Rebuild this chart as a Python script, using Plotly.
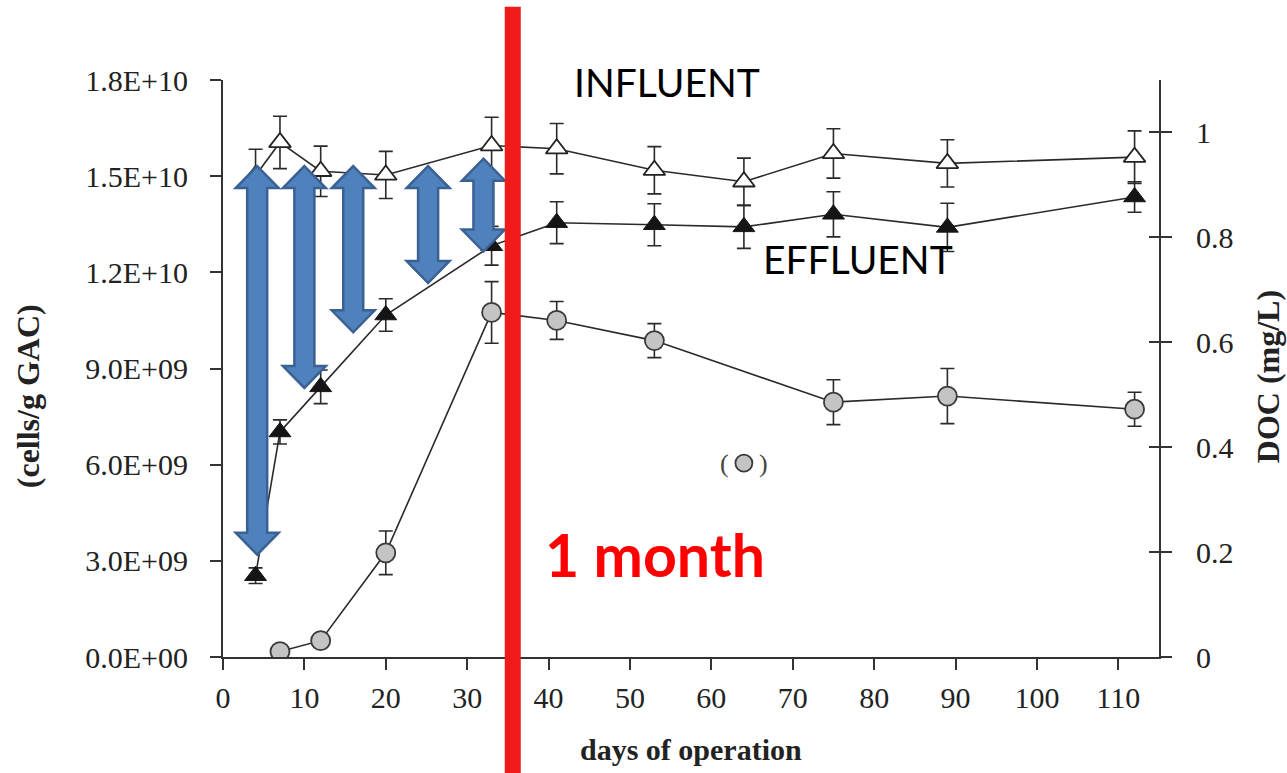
import plotly.graph_objects as go

# ---------------- data ----------------
days = [4, 7, 12, 20, 33, 41, 53, 64, 75, 89, 112]
doc_influent = [0.918, 0.981, 0.926, 0.919, 0.975, 0.969, 0.928, 0.906, 0.960, 0.941, 0.953]
doc_influent_err = [0.050, 0.050, 0.048, 0.045, 0.054, 0.048, 0.045, 0.045, 0.047, 0.045, 0.050]
doc_effluent = [0.155, 0.429, 0.515, 0.652, 0.784, 0.828, 0.824, 0.820, 0.844, 0.819, 0.877]
doc_effluent_err = [0.015, 0.023, 0.032, 0.031, 0.037, 0.040, 0.040, 0.041, 0.043, 0.046, 0.029]

cell_days = [7, 12, 20, 33, 41, 53, 75, 89, 112]
cells = [0.17e9, 0.51e9, 3.25e9, 10.75e9, 10.5e9, 9.87e9, 7.95e9, 8.14e9, 7.73e9]
cells_err = [0, 0, 0.68e9, 0.96e9, 0.59e9, 0.53e9, 0.70e9, 0.86e9, 0.53e9]
outlier_day = [64]
outlier_cells = [6.05e9]

left_tickvals = [0, 3e9, 6e9, 9e9, 12e9, 15e9, 18e9]
left_ticktext = ["0.0E+00", "3.0E+09", "6.0E+09", "9.0E+09", "1.2E+10", "1.5E+10", "1.8E+10"]
right_tickvals = [0, 0.2, 0.4, 0.6, 0.8, 1.0]
right_ticktext = ["0", "0.2", "0.4", "0.6", "0.8", "1"]
x_tickvals = list(range(0, 111, 10))

# double-headed arrows (day, top DOC, bottom DOC)
arrow_x = [4.2, 10.0, 16.0, 25.2, 32.0]
arrow_top = [0.936, 0.936, 0.936, 0.936, 0.950]
arrow_bottom = [0.195, 0.513, 0.619, 0.713, 0.773]

month_day = 35.6
X_MAX = 115
Y2_MAX = 1.1

# ---------------- figure ----------------
fig = go.Figure()
line_col = "#2a2a2a"
err_style = dict(type="data", thickness=1.6, width=7, color="#2a2a2a")

fig.add_trace(go.Scatter(
    x=days, y=doc_influent, yaxis="y2", mode="lines+markers",
    line=dict(color=line_col, width=1.6),
    marker=dict(symbol="triangle-up", size=19, color="white", line=dict(color="#222", width=1.8)),
    error_y=dict(array=doc_influent_err, **err_style)))
fig.add_trace(go.Scatter(
    x=days, y=doc_effluent, yaxis="y2", mode="lines+markers",
    line=dict(color=line_col, width=1.6),
    marker=dict(symbol="triangle-up", size=19, color="#151515", line=dict(color="#151515", width=1)),
    error_y=dict(array=doc_effluent_err, **err_style)))
fig.add_trace(go.Scatter(
    x=cell_days, y=cells, mode="lines+markers",
    line=dict(color=line_col, width=1.6),
    marker=dict(symbol="circle", size=19, color="#c4c4c4", line=dict(color="#3a3a3a", width=1.8)),
    error_y=dict(array=cells_err, **err_style)))
fig.add_trace(go.Scatter(
    x=outlier_day, y=outlier_cells, mode="markers",
    marker=dict(symbol="circle", size=17, color="#c4c4c4", line=dict(color="#3a3a3a", width=1.8))))

# arrows as shapes in data coordinates
hw, sw, hl = 2.64, 1.23, 0.042
shapes = []
for x, yt, yb in zip(arrow_x, arrow_top, arrow_bottom):
    pts = [(x, yt), (x + hw, yt - hl), (x + sw, yt - hl), (x + sw, yb + hl), (x + hw, yb + hl),
           (x, yb), (x - hw, yb + hl), (x - sw, yb + hl), (x - sw, yt - hl), (x - hw, yt - hl)]
    path = "M" + " L".join(f"{px},{py}" for px, py in pts) + " Z"
    shapes.append(dict(type="path", path=path, xref="x", yref="y2", layer="above",
                       fillcolor="#4f81bd", line=dict(color="#3b6193", width=2.5)))
# red 1-month line spanning the whole page height
shapes.append(dict(type="line", xref="paper", yref="paper",
                   x0=month_day / X_MAX, x1=month_day / X_MAX, y0=-0.21, y1=1.127,
                   layer="above", line=dict(color="#f01a1a", width=16)))

serif = "Liberation Serif, Times New Roman, serif"
sans = "Lato, Calibri, sans-serif"
c = dict(showarrow=False, xanchor="center", yanchor="middle")
annotations = [
    dict(text="INFLUENT", x=54.6, y=1.096, xref="x", yref="y2",
         font=dict(family=sans, size=39, color="black"), **c),
    dict(text="EFFLUENT", x=78.0, y=0.758, xref="x", yref="y2",
         font=dict(family=sans, size=39, color="black"), **c),
    dict(text="<b>1 month</b>", x=53.1, y=0.196, xref="x", yref="y2",
         font=dict(family=sans, size=59, color="#ff0000"), **c),
    dict(text="(", x=outlier_day[0], y=outlier_cells[0], xref="x", yref="y", xshift=-19,
         font=dict(family=serif, size=26, color="#444"), **c),
    dict(text=")", x=outlier_day[0], y=outlier_cells[0], xref="x", yref="y", xshift=20,
         font=dict(family=serif, size=26, color="#444"), **c),
    dict(text="<b>(cells/g GAC)</b>", x=-0.2083, y=0.452, xref="paper", yref="paper",
         textangle=-90, font=dict(family=serif, size=32, color="#222"), **c),
    dict(text="<b>DOC (mg/L)</b>", x=1.1165, y=0.485, xref="paper", yref="paper",
         textangle=-90, font=dict(family=serif, size=32, color="#222"), **c),
    dict(text="<b>days of operation</b>", x=0.5, y=-0.161, xref="paper", yref="paper",
         font=dict(family=serif, size=30, color="#222"), **c),
]

axis_col = "#333333"
tickfont = dict(family=serif, size=30, color="#222")
fig.update_layout(
    width=1287, height=773,
    margin=dict(l=223, r=128, t=80, b=116),
    paper_bgcolor="white", plot_bgcolor="white",
    showlegend=False,
    shapes=shapes, annotations=annotations,
    xaxis=dict(range=[0, X_MAX], tickvals=x_tickvals, showgrid=False, zeroline=False,
               showline=True, linecolor=axis_col, linewidth=2, ticks="outside", ticklen=11,
               tickwidth=2, tickcolor=axis_col, tickfont=tickfont, ticklabelstandoff=2),
    yaxis=dict(range=[0, 1.8e10], tickvals=left_tickvals, ticktext=left_ticktext,
               showgrid=False, zeroline=False, showline=True, linecolor=axis_col, linewidth=2,
               ticks="outside", ticklen=11, tickwidth=2, tickcolor=axis_col, tickfont=tickfont,
               ticklabelstandoff=16),
    yaxis2=dict(range=[0, Y2_MAX], tickvals=right_tickvals, ticktext=right_ticktext,
                overlaying="y", side="right", anchor="x", showgrid=False, zeroline=False,
                showline=True, linecolor=axis_col, linewidth=2, ticks="outside", ticklen=11,
                tickwidth=2, tickcolor=axis_col, tickfont=tickfont, ticklabelstandoff=18),
    yaxis3=dict(range=[0, Y2_MAX], tickvals=right_tickvals, overlaying="y", side="right",
                anchor="x", showgrid=False, zeroline=False, showline=False,
                showticklabels=False, ticks="inside", ticklen=10, tickwidth=2,
                tickcolor=axis_col),
)
fig.add_trace(go.Scatter(x=[None], y=[None], yaxis="y3", showlegend=False, hoverinfo="skip"))

fig.write_html("out.html")
